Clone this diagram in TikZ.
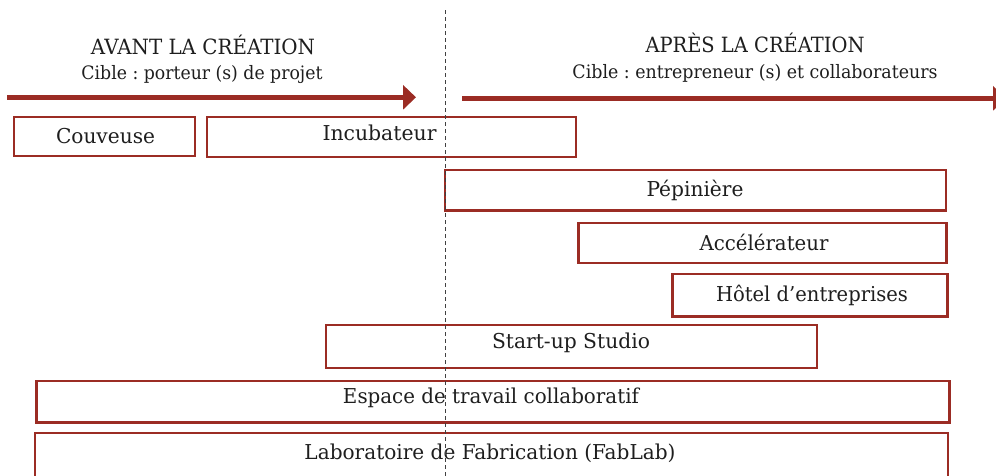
\documentclass[tikz,border=0pt]{standalone}
\usepackage{fontspec}
\setmainfont{DejaVu Serif}
\usepackage{graphicx}
\usetikzlibrary{arrows.meta}
\definecolor{brick}{HTML}{9B2C24}
\definecolor{ink}{HTML}{1E1E1E}
\newcommand{\fitw}[2]{\resizebox{#1pt}{\height}{#2}}
\frenchspacing
\begin{document}
\begin{tikzpicture}[x=1pt,y=-1pt,
  box/.style={draw=brick,line width=2.2pt,inner sep=0pt,fill=none},
  lbl/.style={anchor=base,inner sep=0pt,text=ink,font=\fontsize{20.5}{20.5}\selectfont},
  ttl/.style={anchor=base,inner sep=0pt,text=ink,font=\fontsize{21}{21}\selectfont},
  sub/.style={anchor=base,inner sep=0pt,text=ink,font=\fontsize{18.5}{18.5}\selectfont},
  bigarrow/.style={draw=brick,line width=5pt,-{Triangle[length=13pt,width=24pt]}},
  divider/.style={draw=ink!85,line width=0.9pt,dash pattern=on 4pt off 3pt}]
\useasboundingbox (0,0) rectangle (996,475);
% divider
\coordinate (d1) at (445,10);
\coordinate (d2) at (445,480);
% titles
\node[ttl] (tav) at (203,54.3) {\fitw{224}{AVANT LA CRÉATION}};
\node[sub] (sav) at (202,79.3) {\fitw{241}{Cible : porteur (s) de projet}};
\node[ttl] (tap) at (755,52.3) {\fitw{219}{APRÈS LA CRÉATION}};
\node[sub] (sap) at (755,78.3) {\fitw{365}{Cible : entrepreneur (s) et collaborateurs}};
% arrows
\coordinate (la1) at (7,97.3);
\coordinate (la2) at (416,97.3);
\coordinate (ra1) at (462,98.3);
\coordinate (ra2) at (1006,98.3);
\draw[bigarrow] (la1) -- (la2);
\draw[bigarrow] (ra1) -- (ra2);
% boxes
\node[box,minimum width=181pt,minimum height=39.5pt] (cou) at (104.5,136.5) {};
\node[box,minimum width=369pt,minimum height=40pt] (inc) at (391.3,136.7) {};
\node[box,minimum width=501pt,minimum height=40.5pt] (pep) at (695.5,190.3) {};
\node[box,minimum width=368pt,minimum height=40.5pt] (acc) at (762.5,243) {};
\node[box,minimum width=275pt,minimum height=42.5pt] (hot) at (810,295.3) {};
\node[box,minimum width=491pt,minimum height=43pt] (sus) at (571.5,346.7) {};
\node[box,minimum width=913pt,minimum height=41.5pt] (esp) at (493,401.8) {};
\node[box,minimum width=913pt,minimum height=48pt] (lab) at (491.5,457.3) {};
% labels
\node[lbl] (tcou) at (105.5,143.3) {\fitw{99}{Couveuse}};
\node[lbl] (tinc) at (379.5,140) {\fitw{114}{Incubateur}};
\node[lbl] (tpep) at (695,196.7) {\fitw{97}{Pépinière}};
\node[lbl] (tacc) at (764,250) {\fitw{129}{Accélérateur}};
\node[lbl] (thot) at (812,301.7) {\fitw{192}{Hôtel d’entreprises}};
\node[lbl] (tsus) at (571,348.3) {\fitw{158}{Start-up Studio}};
\node[lbl] (tesp) at (491,403.3) {\fitw{296}{Espace de travail collaboratif}};
\node[lbl] (tlab) at (490,459.3) {\fitw{371}{Laboratoire de Fabrication (FabLab)}};
% divider on top
\draw[divider] (d1) -- (d2);
\end{tikzpicture}
\end{document}
